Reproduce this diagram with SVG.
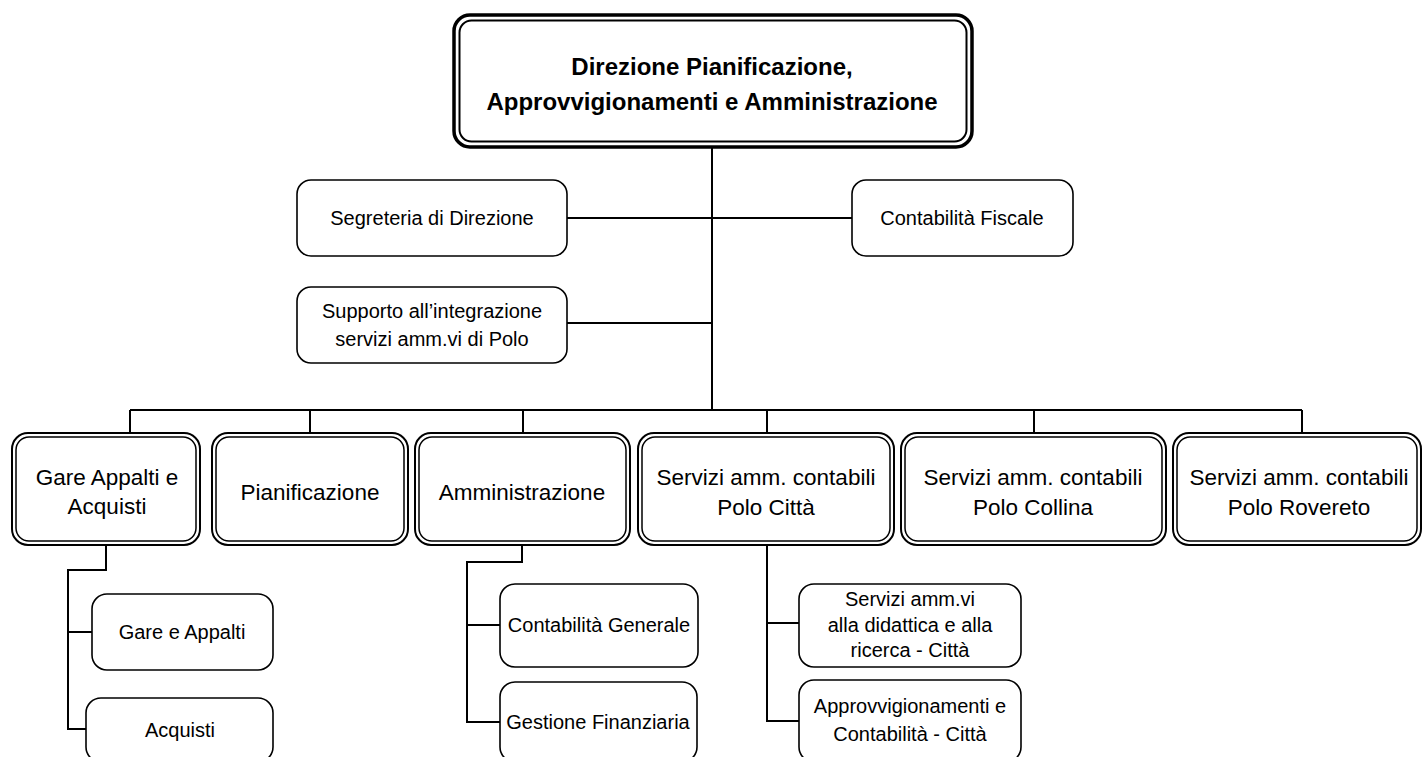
<svg xmlns="http://www.w3.org/2000/svg" width="1423" height="757" viewBox="0 0 1423 757">
<style>
text{font-family:"Liberation Sans",Arial,sans-serif;fill:#000;text-anchor:middle}
.t-top{font-size:24px;font-weight:bold}
.t-main{font-size:22.5px}
.t-sm{font-size:20px}
.top-o{fill:#fff;stroke:#000;stroke-width:3.5}
.top-i{fill:none;stroke:#000;stroke-width:2}
.dbl-o{fill:#fff;stroke:#000;stroke-width:2}
.dbl-i{fill:none;stroke:#000;stroke-width:1.5}
.sm{fill:#fff;stroke:#000;stroke-width:1.6}
.conn{fill:none;stroke:#000;stroke-width:2}
</style>
<rect width="1423" height="757" fill="#fff"/>
<g id="connectors">
<path class="conn" d="M712 147V410"/>
<path class="conn" d="M567 218H852"/>
<path class="conn" d="M567 323H712"/>
<path class="conn" d="M130 410H1302"/>
<path class="conn" d="M130 410V434M310 410V434M523 410V434M767 410V434M1034 410V434M1302 410V434"/>
<path class="conn" d="M106 545V570H68V729H86M68 632H92"/>
<path class="conn" d="M522 545V562H467V722H500M467 625H500"/>
<path class="conn" d="M767 545V721H799M767 623H799"/>
</g>
<g id="n-direzione">
<rect class="top-o" x="454" y="15" width="518" height="132" rx="16"/>
<rect class="top-i" x="459.5" y="20.5" width="507" height="121" rx="12"/>
<text class="t-top" x="712" y="75">Direzione Pianificazione,</text>
<text class="t-top" x="712" y="110">Approvvigionamenti e Amministrazione</text>
</g>
<g id="n-segreteria">
<rect class="sm" x="297" y="180" width="270" height="76" rx="14"/>
<text class="t-sm" x="432" y="225">Segreteria di Direzione</text>
</g>
<g id="n-fiscale">
<rect class="sm" x="852" y="180" width="221" height="76" rx="14"/>
<text class="t-sm" x="962" y="225">Contabilità Fiscale</text>
</g>
<g id="n-supporto">
<rect class="sm" x="297" y="287" width="270" height="76" rx="14"/>
<text class="t-sm" x="432" y="318">Supporto all’integrazione</text>
<text class="t-sm" x="432" y="346">servizi amm.vi di Polo</text>
</g>
<g id="n-gare">
<rect class="dbl-o" x="12" y="433" width="188" height="112" rx="16"/>
<rect class="dbl-i" x="16" y="437" width="180" height="104" rx="13"/>
<text class="t-main" x="107" y="485">Gare Appalti e</text>
<text class="t-main" x="107" y="514">Acquisti</text>
</g>
<g id="n-pianificazione">
<rect class="dbl-o" x="212" y="433" width="196" height="112" rx="16"/>
<rect class="dbl-i" x="216" y="437" width="188" height="104" rx="13"/>
<text class="t-main" x="310" y="500">Pianificazione</text>
</g>
<g id="n-amministrazione">
<rect class="dbl-o" x="415" y="433" width="215" height="112" rx="16"/>
<rect class="dbl-i" x="419" y="437" width="207" height="104" rx="13"/>
<text class="t-main" x="522" y="500">Amministrazione</text>
</g>
<g id="n-citta">
<rect class="dbl-o" x="638" y="433" width="256" height="112" rx="16"/>
<rect class="dbl-i" x="642" y="437" width="248" height="104" rx="13"/>
<text class="t-main" x="766" y="485">Servizi amm. contabili</text>
<text class="t-main" x="766" y="515">Polo Città</text>
</g>
<g id="n-collina">
<rect class="dbl-o" x="901" y="433" width="265" height="112" rx="16"/>
<rect class="dbl-i" x="905" y="437" width="257" height="104" rx="13"/>
<text class="t-main" x="1033" y="485">Servizi amm. contabili</text>
<text class="t-main" x="1033" y="515">Polo Collina</text>
</g>
<g id="n-rovereto">
<rect class="dbl-o" x="1173" y="433" width="248" height="112" rx="16"/>
<rect class="dbl-i" x="1177" y="437" width="240" height="104" rx="13"/>
<text class="t-main" x="1299" y="485">Servizi amm. contabili</text>
<text class="t-main" x="1299" y="515">Polo Rovereto</text>
</g>
<g id="n-gare-appalti">
<rect class="sm" x="92" y="594" width="181" height="76" rx="15"/>
<text class="t-sm" x="182" y="639">Gare e Appalti</text>
</g>
<g id="n-acquisti">
<rect class="sm" x="86" y="698" width="187" height="64" rx="15"/>
<text class="t-sm" x="180" y="737">Acquisti</text>
</g>
<g id="n-cont-generale">
<rect class="sm" x="500" y="584" width="198" height="83" rx="15"/>
<text class="t-sm" x="599" y="632">Contabilità Generale</text>
</g>
<g id="n-gest-finanziaria">
<rect class="sm" x="500" y="682" width="197" height="80" rx="15"/>
<text class="t-sm" x="598" y="729">Gestione Finanziaria</text>
</g>
<g id="n-servizi-didattica">
<rect class="sm" x="799" y="584" width="222" height="83" rx="15"/>
<text class="t-sm" x="910" y="606">Servizi amm.vi</text>
<text class="t-sm" x="910" y="632">alla didattica e alla</text>
<text class="t-sm" x="910" y="657">ricerca - Città</text>
</g>
<g id="n-approvv-citta">
<rect class="sm" x="799" y="680" width="222" height="82" rx="15"/>
<text class="t-sm" x="910" y="713">Approvvigionamenti e</text>
<text class="t-sm" x="910" y="741">Contabilità - Città</text>
</g>
</svg>
